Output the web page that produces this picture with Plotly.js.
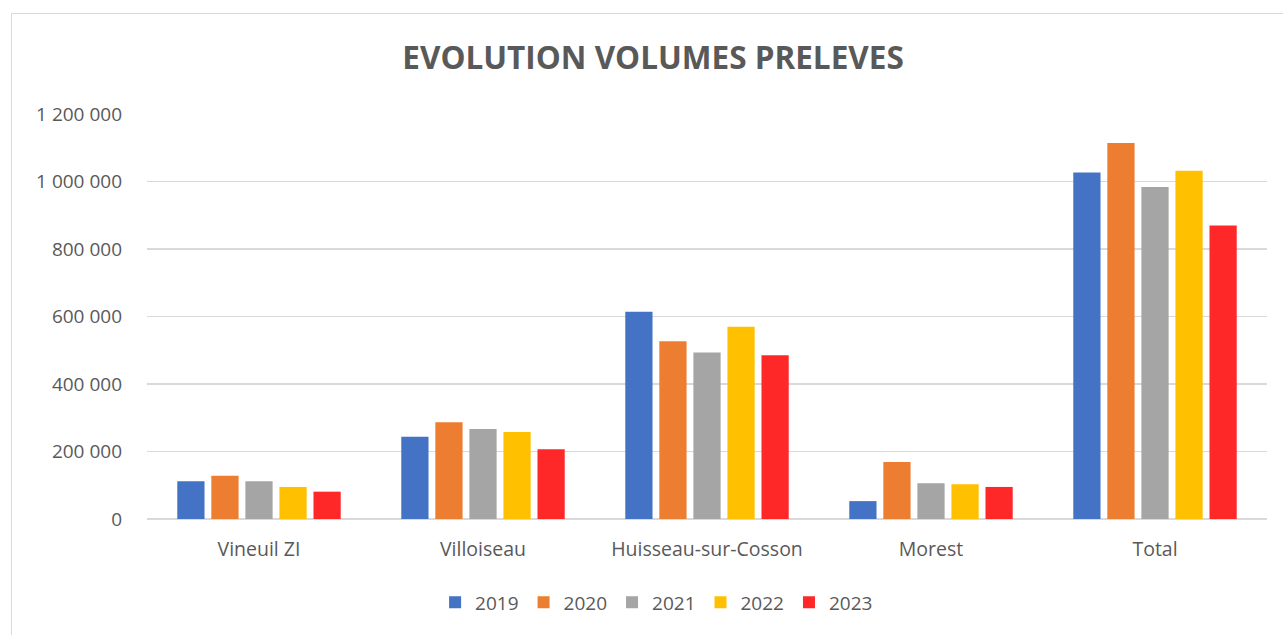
<!DOCTYPE html>
<html>
<head>
<meta charset="utf-8">
<script src="https://cdn.plot.ly/plotly-3.0.1.min.js"></script>
<style>
  html, body { margin: 0; padding: 0; background: #fff; }
  #chart { width: 1283px; height: 635px; }
  #frame { position: absolute; left: 11px; top: 13px; width: 1290px; height: 640px;
           border: 1px solid #d9d9d9; pointer-events: none; box-sizing: border-box; }
</style>
</head>
<body>
<div id="chart"></div>
<div id="frame"></div>
<script>
const categories = ["Vineuil ZI", "Villoiseau", "Huisseau-sur-Cosson", "Morest", "Total"];
const years = ["2019", "2020", "2021", "2022", "2023"];
const v2019 = [112000, 244000, 614000, 53000, 1027000];
const v2020 = [128000, 287000, 527000, 169000, 1114000];
const v2021 = [112000, 267000, 493000, 106000, 984000];
const v2022 = [95000, 258000, 570000, 103000, 1032000];
const v2023 = [81000, 207000, 485000, 95000, 870000];
const colors = ["#4472C4", "#ED7D31", "#A5A5A5", "#FFC000", "#FF2828"];
const tickVals = [0, 200000, 400000, 600000, 800000, 1000000, 1200000];
const tickText = ["0", "200 000", "400 000", "600 000", "800 000", "1 000 000", "1 200 000"];

const series = [v2019, v2020, v2021, v2022, v2023];
const font = "Open Sans, Liberation Sans, sans-serif";
const traces = series.map((vals, i) => ({
  type: "bar",
  name: years[i],
  x: categories,
  y: vals,
  marker: { color: colors[i], line: { width: 0 } },
  hoverinfo: "x+y+name"
}));

const layout = {
  width: 1283, height: 635,
  paper_bgcolor: "#ffffff", plot_bgcolor: "#ffffff",
  margin: { l: 147, r: 16, t: 113.5, b: 115.5 },
  title: {
    text: "<b>EVOLUTION VOLUMES PRELEVES</b>",
    font: { family: font, size: 31.5, color: "#595959" },
    x: 0.509, xanchor: "center", y: 0.909, yanchor: "middle"
  },
  barmode: "group",
  bargap: 0.24,
  bargroupgap: 0.2,
  xaxis: {
    tickfont: { family: font, size: 19.5, color: "#595959" },
    showgrid: false, zeroline: false, showline: false,
    ticks: "", ticklen: 0, ticklabelstandoff: 16
  },
  yaxis: {
    range: [0, 1200000],
    tickvals: tickVals, ticktext: tickText,
    tickfont: { family: font, size: 19, color: "#595959" },
    showgrid: true, gridcolor: "#d9d9d9", gridwidth: 1.5,
    zeroline: true, zerolinecolor: "#d9d9d9", zerolinewidth: 1.5,
    showline: false, ticks: "", ticklabelstandoff: 24
  },
  legend: {
    orientation: "h", x: 0.455, xanchor: "center", y: -0.206, yanchor: "middle",
    font: { family: font, size: 19, color: "#595959" },
    traceorder: "normal", itemwidth: 30
  },
  showlegend: true
};

Plotly.newPlot("chart", traces, layout, { displayModeBar: false, staticPlot: true });
</script>
</body>
</html>
